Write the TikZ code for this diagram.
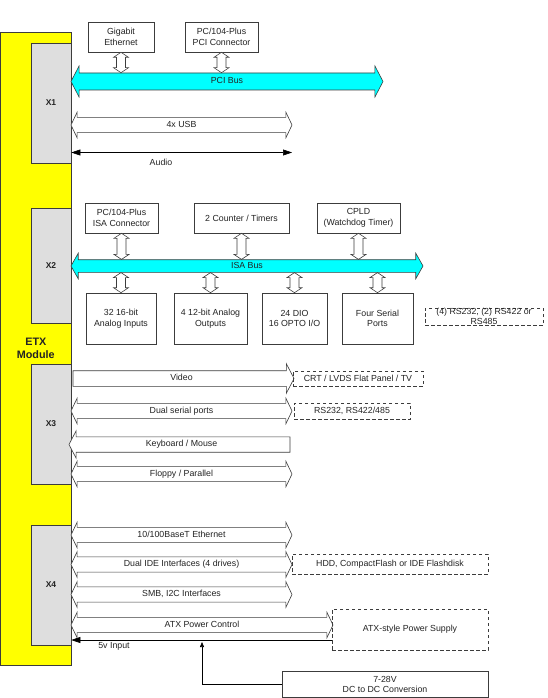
\documentclass[tikz,border=0pt]{standalone}
\usepackage{fontspec}
\setmainfont{Liberation Sans}
\usetikzlibrary{arrows.meta, shapes.arrows, calc}
\definecolor{etxyellow}{RGB}{255,255,0}
\definecolor{busfill}{RGB}{0,255,255}
\definecolor{xgray}{RGB}{222,222,222}
\definecolor{linegray}{RGB}{60,60,60}
\definecolor{textgray}{RGB}{35,35,35}

\begin{document}
\begin{tikzpicture}[x=1pt, y=-1pt,
  every node/.style={font=\fontsize{8.8}{10.6}\selectfont, text=textgray},
  box/.style={rectangle, draw=linegray, line width=.6pt, fill=white,
              align=center, inner sep=0pt},
  extbox/.style={rectangle, draw=linegray, line width=.7pt,
                 dash pattern=on 3.5pt off 2.5pt, align=center, inner sep=0pt},
  conn/.style={rectangle, draw=linegray, line width=.6pt, fill=xgray,
               inner sep=0pt, minimum width=40, minimum height=120,
               font=\fontsize{8.5}{10}\selectfont\bfseries},
  bus/.style={double arrow, draw=linegray, line width=.6pt, fill=busfill,
              inner xsep=0pt, text height=6.3pt, text depth=1.9pt},
  wide/.style={double arrow, draw=linegray, line width=.6pt, fill=white,
               inner xsep=0pt, inner ysep=3.2pt, text height=6.3pt, text depth=1.9pt,
               double arrow head extend=5.25pt, double arrow tip angle=129},
  oneway/.style={single arrow, draw=linegray, line width=.6pt, fill=white,
                 inner xsep=0pt, inner ysep=3.3pt, text height=6.3pt, text depth=1.9pt,
                 single arrow head extend=6pt, single arrow tip angle=125},
  vlink/.style={draw=linegray, line width=.6pt, fill=white, to path={
      let \p1=(\tikztostart), \p2=(\tikztotarget) in
      (\x1,\y1) -- (\x1+7.5pt,\y1-5pt) -- (\x1+4.5pt,\y1-5pt) -- (\x1+4.5pt,\y2+5pt)
      -- (\x1+7.5pt,\y2+5pt) -- (\x1,\y2) -- (\x1-7.5pt,\y2+5pt) -- (\x1-4.5pt,\y2+5pt)
      -- (\x1-4.5pt,\y1-5pt) -- (\x1-7.5pt,\y1-5pt) -- cycle}},
  wire/.style={draw=black, line width=.6pt}
]
\useasboundingbox (0,0) rectangle (548,698);

% ETX module and its connectors
\node[rectangle, draw=linegray, line width=.6pt, fill=etxyellow, inner sep=0pt,
      minimum width=70.5, minimum height=633, align=center,
      font=\fontsize{10.8}{13}\selectfont\bfseries] (etx) at (35.8,348.5) {ETX\\Module};
\node[conn] (x1) at (51,103) {X1};
\node[conn, minimum height=115] (x2) at (51,265.5) {X2};
\node[conn] (x3) at (51,424) {X3};
\node[conn] (x4) at (51,585) {X4};

% PCI side
\node[box, minimum width=66, minimum height=30] (ge) at (121,37) {Gigabit\\Ethernet};
\node[box, minimum width=73, minimum height=30] (pcic) at (221.5,37) {PC/104-Plus\\PCI Connector};
\node[bus, minimum height=312, inner ysep=4.1pt, double arrow head extend=7pt,
      double arrow tip angle=125] (pcibus) at (227,81.5) {PCI Bus};
\draw[vlink] (ge.south) to (ge.south |- pcibus.north);
\draw[vlink] (pcic.south) to (pcic.south |- pcibus.north);

\node[wide, minimum height=221] (usb) at (181.5,125) {4x USB};
\coordinate (audioend) at (292,152.5);
\draw[wire, {Triangle[length=9pt,width=6pt]}-{Triangle[length=9pt,width=6pt]}]
  (x1.east |- audioend) -- (audioend);
\node (audio) at (161,162) {Audio};

% ISA side
\node[box, minimum width=73, minimum height=30] (isac) at (121.5,218) {PC/104-Plus\\ISA Connector};
\node[box, minimum width=95, minimum height=30] (ctr) at (241.5,218) {2 Counter / Timers};
\node[box, minimum width=83, minimum height=30] (cpld) at (358.5,218) {CPLD\\(Watchdog Timer)};
\node[bus, minimum height=352, inner ysep=1.9pt, double arrow head extend=6.5pt,
      double arrow tip angle=121] (isabus) at (247,266) {ISA Bus};
\node[box, minimum width=70, minimum height=51] (ain) at (121,318.5) {32 16-bit\\Analog Inputs};
\node[box, minimum width=73, minimum height=51] (aout) at (210.5,318.5) {4 12-bit Analog\\Outputs};
\node[box, minimum width=65, minimum height=51] (dio) at (294.5,318.5) {24 DIO\\16 OPTO I/O};
\node[box, minimum width=71, minimum height=51] (ser) at (377.5,318.5) {Four Serial\\Ports};
\node[extbox, minimum width=118, minimum height=17,
      label={[align=center]center:{(4) RS232, (2) RS422 or\\RS485}}] (serout) at (484,316.5) {};
\foreach \b in {isac,ctr,cpld}
  \draw[vlink] (\b.south) to (\b.south |- isabus.north);
\foreach \b in {ain,aout,dio,ser}
  \draw[vlink] (\b.north |- isabus.south) to (\b.north);

% X3 signals
\node[oneway, minimum height=221, single arrow head extend=7pt, inner ysep=3.4pt] (video) at (181.5,378.5) {Video};
\node[extbox, minimum width=130, minimum height=15] (crt) at (358,378.5) {CRT / LVDS Flat Panel / TV};
\node[wide, minimum height=221] (dser) at (181.5,411) {Dual serial ports};
\node[extbox, minimum width=116, minimum height=16] (rs) at (352,411) {RS232, RS422/485};
\node[oneway, shape border rotate=180, minimum height=221] (kbd) at (181.5,444.5) {Keyboard / Mouse};
\node[wide, minimum height=221] (fpp) at (181.5,474) {Floppy / Parallel};

% X4 signals
\node[wide, minimum height=221] (eth) at (181.5,535) {10/100BaseT Ethernet};
\node[wide, minimum height=221] (ide) at (181.5,564.5) {Dual IDE Interfaces (4 drives)};
\node[extbox, minimum width=196, minimum height=20] (hdd) at (390,564) {HDD, CompactFlash or IDE Flashdisk};
\node[wide, minimum height=221] (smb) at (181.5,594.5) {SMB, I2C Interfaces};
\node[wide, minimum height=262] (atxc) at (202,625) {ATX Power Control};
\node[extbox, minimum width=156, minimum height=41] (atxps) at (410,629.5) {ATX-style Power Supply};

% power input
\node[box, minimum width=206, minimum height=26] (dc) at (385,684.5) {7-28V\\DC to DC Conversion};
\coordinate (pwrin) at (332,640);
\coordinate (dcup) at (202,642);
\draw[wire, -{Triangle[length=9pt,width=6pt]}] (pwrin) -- (pwrin -| x4.east);
\node (vin) at (114,646) {5v Input};
\draw[wire, -{Triangle[length=5pt,width=4pt]}] (dc.west) -| (dcup);

\end{tikzpicture}
\end{document}
